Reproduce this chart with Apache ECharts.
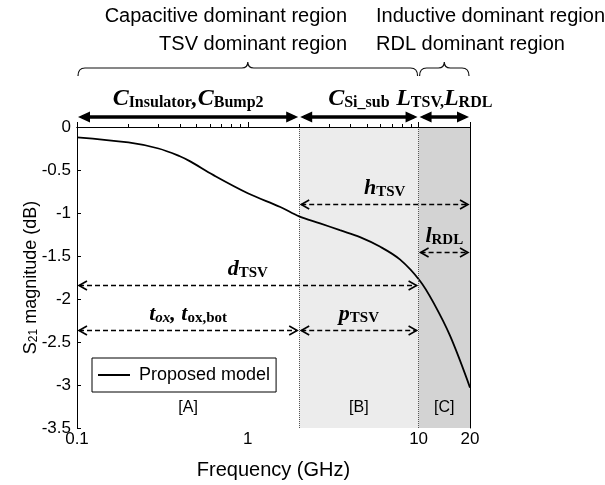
<!DOCTYPE html>
<html><head><meta charset="utf-8">
<script src="https://cdn.jsdelivr.net/npm/echarts@6/dist/echarts.min.js"></script>
<style>html,body{margin:0;padding:0;background:#fff}#c{width:605px;height:485px}</style>
</head><body><div id="c"></div>
<script>
// ---- data ----
const freqGHz = [0.1, 0.2, 0.3, 0.4, 0.46, 0.63, 1.0, 1.55, 2.0, 2.65, 3.46, 4.54, 5.93, 7.77, 10.2, 12.2, 15.3, 20];
const s21dB   = [-0.12, -0.18, -0.25, -0.34, -0.40, -0.56, -0.77, -0.93, -1.04, -1.12, -1.20, -1.28, -1.39, -1.54, -1.79, -2.04, -2.43, -3.03];
const seriesName = 'Proposed model';
const xMin = 0.1, xMax = 20;
const yMin = -3.5, yMax = 0, yStep = 0.5;
const xLabelValues = [0.1, 1, 10, 20];
const minorTickValues = [0.2, 0.3, 0.4, 0.5, 0.6, 0.7, 0.8, 0.9, 2, 3, 4, 5, 6, 7, 8, 9];
const regionFrom = [0.1, 2, 10];
const regionTo = [2, 10, 20];
const regionLabels = ['[A]', '[B]', '[C]'];
const regionColors = ['rgba(255,255,255,0)', '#ececec', '#d3d3d3'];
const dividerGHz = [2, 10];
// dashed dimension arrows
const dimFrom = [2, 10, 0.1, 0.1, 2];
const dimTo = [20, 20, 10, 2, 10];
const dimDB = [-0.9, -1.45, -1.84, -2.365, -2.365];
const dimText = ['{i|h}{s|TSV}', '{i|l}{s|RDL}', '{i|d}{s|TSV}', '{i|t}{si|ox}{i|, t}{s|ox,bot}', '{i|p}{s|TSV}'];
// bold span arrows above the plot
const spanFrom = [0.1, 2, 10];
const spanTo = [2, 10, 20];
const spanText = ['{I|C}{S|Insulator}{I|,C}{S|Bump2}', '{I|C}{S|Si_sub}', '{I|L}{S|TSV,}{I|L}{S|RDL}'];
// braces
const braceFrom = [0.1, 10];
const braceTo = [10, 20];
const headLeft = ['Capacitive dominant region', 'TSV dominant region'];
const headRight = ['Inductive dominant region', 'RDL dominant region'];

const SERIF = '"Liberation Serif","Times New Roman",serif';
const SANS = '"Liberation Sans",Arial,sans-serif';
const rich = {
  i: {fontFamily: SERIF, fontStyle: 'italic', fontWeight: 'bold', fontSize: 22, lineHeight: 24, verticalAlign: 'bottom', color: '#000'},
  si: {fontFamily: SERIF, fontStyle: 'italic', fontWeight: 'bold', fontSize: 15, lineHeight: 10, verticalAlign: 'bottom', color: '#000'},
  s: {fontFamily: SERIF, fontWeight: 'bold', fontSize: 15, lineHeight: 10, verticalAlign: 'bottom', color: '#000'},
  I: {fontFamily: SERIF, fontStyle: 'italic', fontWeight: 'bold', fontSize: 24, lineHeight: 26, verticalAlign: 'bottom', color: '#000'},
  S: {fontFamily: SERIF, fontWeight: 'bold', fontSize: 16, lineHeight: 11, verticalAlign: 'bottom', color: '#000'}
};

const chart = echarts.init(document.getElementById('c'), null, {renderer: 'canvas'});

function renderDim(params, api) {
  const i = params.dataIndex;
  const p1 = api.coord([api.value(0), api.value(2)]);
  const p2 = api.coord([api.value(1), api.value(2)]);
  const y = Math.round(p1[1]) + 0.5, xa = p1[0] + 2, xb = p2[0] - 2;
  const w = 8, h = 4.5;
  return {type: 'group', children: [
    {type: 'line', shape: {x1: xa, y1: y, x2: xb, y2: y}, style: {stroke: '#000', lineWidth: 1.6, lineDash: [5, 3]}},
    {type: 'polyline', shape: {points: [[xa + w, y - h], [xa, y], [xa + w, y + h]]}, style: {stroke: '#000', lineWidth: 1.6, fill: 'none'}},
    {type: 'polyline', shape: {points: [[xb - w, y - h], [xb, y], [xb - w, y + h]]}, style: {stroke: '#000', lineWidth: 1.6, fill: 'none'}},
    {type: 'text', x: (xa + xb) / 2, y: y - 5, style: {text: dimText[i], rich: rich, align: 'center', verticalAlign: 'bottom'}}
  ]};
}
function renderSpan(params, api) {
  const i = params.dataIndex;
  const p1 = api.coord([api.value(0), yMax]);
  const p2 = api.coord([api.value(1), yMax]);
  const y = p1[1] - 10, xa = p1[0] + 1, xb = p2[0] - 1;
  const w = 12, h = 5.5;
  return {type: 'group', children: [
    {type: 'line', shape: {x1: xa + 4, y1: y, x2: xb - 4, y2: y}, style: {stroke: '#000', lineWidth: 3.5}},
    {type: 'polygon', shape: {points: [[xa, y], [xa + w, y - h], [xa + w, y + h]]}, style: {fill: '#000'}},
    {type: 'polygon', shape: {points: [[xb, y], [xb - w, y - h], [xb - w, y + h]]}, style: {fill: '#000'}},
    {type: 'text', x: (xa + xb) / 2, y: y - 6, style: {text: spanText[i], rich: rich, align: 'center', verticalAlign: 'bottom'}}
  ]};
}
function renderBrace(params, api) {
  const p1 = api.coord([api.value(0), yMax]);
  const p2 = api.coord([api.value(1), yMax]);
  const xa = p1[0] + 1, xb = p2[0] - 1, xm = (xa + xb) / 2;
  const top = p1[1];
  const yEnd = top - 51, yH = top - 59, yTip = top - 65;
  const d = 'M' + xa + ' ' + yEnd + ' Q' + xa + ' ' + yH + ' ' + (xa + 7) + ' ' + yH +
    ' L' + (xm - 6) + ' ' + yH + ' Q' + xm + ' ' + yH + ' ' + xm + ' ' + yTip +
    ' Q' + xm + ' ' + yH + ' ' + (xm + 6) + ' ' + yH +
    ' L' + (xb - 7) + ' ' + yH + ' Q' + xb + ' ' + yH + ' ' + xb + ' ' + yEnd;
  return {type: 'path', shape: {pathData: d}, style: {stroke: '#111', lineWidth: 1.2, fill: 'none'}};
}

const hidden = {show: false};
const option = {
  animation: false,
  backgroundColor: '#fff',
  grid: {left: 77, right: 135, top: 127, bottom: 56},
  legend: {
    data: [{name: seriesName, icon: 'rect'}], left: 92, top: 358, orient: 'horizontal',
    borderColor: '#000', borderWidth: 1, borderRadius: 0, padding: [8, 6, 8, 6],
    itemWidth: 32, itemHeight: 2,
    itemStyle: {color: '#000'},
    textStyle: {fontFamily: SANS, fontSize: 18, color: '#000', padding: [0, 0, 0, 4]}
  },
  xAxis: [
    {type: 'log', logBase: 10, min: xMin, max: xMax, position: 'bottom', z: 5,
      name: 'Frequency (GHz)', nameLocation: 'middle', nameGap: 32, nameMoveOverlap: false,
      nameTextStyle: {fontFamily: SANS, fontSize: 20, color: '#000'},
      axisLine: {lineStyle: {color: '#000', width: 1}},
      axisTick: {inside: true, length: 5, lineStyle: {color: '#000'}},
      axisLabel: {fontFamily: SANS, fontSize: 17, color: '#000', margin: 3, customValues: xLabelValues,
        formatter: v => String(+v.toPrecision(3))},
      splitLine: hidden},
    {type: 'log', logBase: 10, min: xMin, max: xMax, position: 'bottom', z: 5,
      axisLine: hidden, axisLabel: hidden, splitLine: hidden,
      axisTick: {inside: true, length: 3, customValues: minorTickValues, lineStyle: {color: '#000'}}},
    {type: 'log', logBase: 10, min: xMin, max: xMax, position: 'top', z: 5,
      axisLine: {lineStyle: {color: '#000', width: 1}}, axisTick: hidden, axisLabel: hidden, splitLine: hidden}
  ],
  yAxis: [
    {type: 'value', min: yMin, max: yMax, interval: yStep, position: 'left', z: 5,
      name: '{n|S}{b|21}{n| magnitude (dB)}', nameLocation: 'middle', nameGap: 37, nameRotate: 90, nameMoveOverlap: false,
      nameTextStyle: {fontFamily: SANS, fontSize: 18, color: '#000',
        rich: {n: {fontFamily: SANS, fontSize: 18, color: '#000', lineHeight: 20, verticalAlign: 'bottom'},
               b: {fontFamily: SANS, fontSize: 12, color: '#000', lineHeight: 8, verticalAlign: 'bottom'}}},
      axisLine: {show: true, lineStyle: {color: '#000', width: 1}},
      axisTick: {show: true, inside: true, length: 4, lineStyle: {color: '#000'}},
      axisLabel: {fontFamily: SANS, fontSize: 17, color: '#000', margin: 6},
      splitLine: hidden},
    {type: 'value', min: yMin, max: yMax, interval: yStep, position: 'right', z: 5,
      axisLine: {show: true, lineStyle: {color: '#000', width: 1}}, axisTick: hidden, axisLabel: hidden, splitLine: hidden}
  ],
  graphic: [
    {type: 'text', right: 605 - 347, top: 6, style: {text: headLeft[0], font: '20px ' + SANS, fill: '#000'}},
    {type: 'text', right: 605 - 347, top: 34, style: {text: headLeft[1], font: '20px ' + SANS, fill: '#000'}},
    {type: 'text', left: 376, top: 6, style: {text: headRight[0], font: '20px ' + SANS, fill: '#000'}},
    {type: 'text', left: 376, top: 34, style: {text: headRight[1], font: '20px ' + SANS, fill: '#000'}}
  ],
  series: [
    {type: 'line', name: seriesName, xAxisIndex: 0, yAxisIndex: 0,
      data: freqGHz.map((f, i) => [f, s21dB[i]]),
      symbol: 'none', smooth: 0.35, z: 4,
      lineStyle: {color: '#000', width: 1.8}, itemStyle: {color: '#000'},
      markArea: {silent: true,
        label: {position: 'insideBottom', distance: 12, fontFamily: SANS, fontSize: 16, color: '#000'},
        data: regionFrom.map((f, i) => [{xAxis: f, name: regionLabels[i], itemStyle: {color: regionColors[i]}}, {xAxis: regionTo[i]}])},
      markLine: {silent: true, symbol: ['none', 'none'], label: {show: false},
        lineStyle: {type: 'dotted', color: '#555', width: 1},
        data: dividerGHz.map(f => ({xAxis: f}))}
    },
    {type: 'custom', name: 'dims', xAxisIndex: 0, yAxisIndex: 0, clip: false, z: 6, silent: true,
      renderItem: renderDim, encode: {x: [0, 1], y: 2},
      data: dimFrom.map((f, i) => [f, dimTo[i], dimDB[i]])},
    {type: 'custom', name: 'spans', xAxisIndex: 0, yAxisIndex: 0, clip: false, z: 6, silent: true,
      renderItem: renderSpan, encode: {x: [0, 1]},
      data: spanFrom.map((f, i) => [f, spanTo[i]])},
    {type: 'custom', name: 'braces', xAxisIndex: 0, yAxisIndex: 0, clip: false, z: 6, silent: true,
      renderItem: renderBrace, encode: {x: [0, 1]},
      data: braceFrom.map((f, i) => [f, braceTo[i]])}
  ]
};
chart.setOption(option);
</script></body></html>
